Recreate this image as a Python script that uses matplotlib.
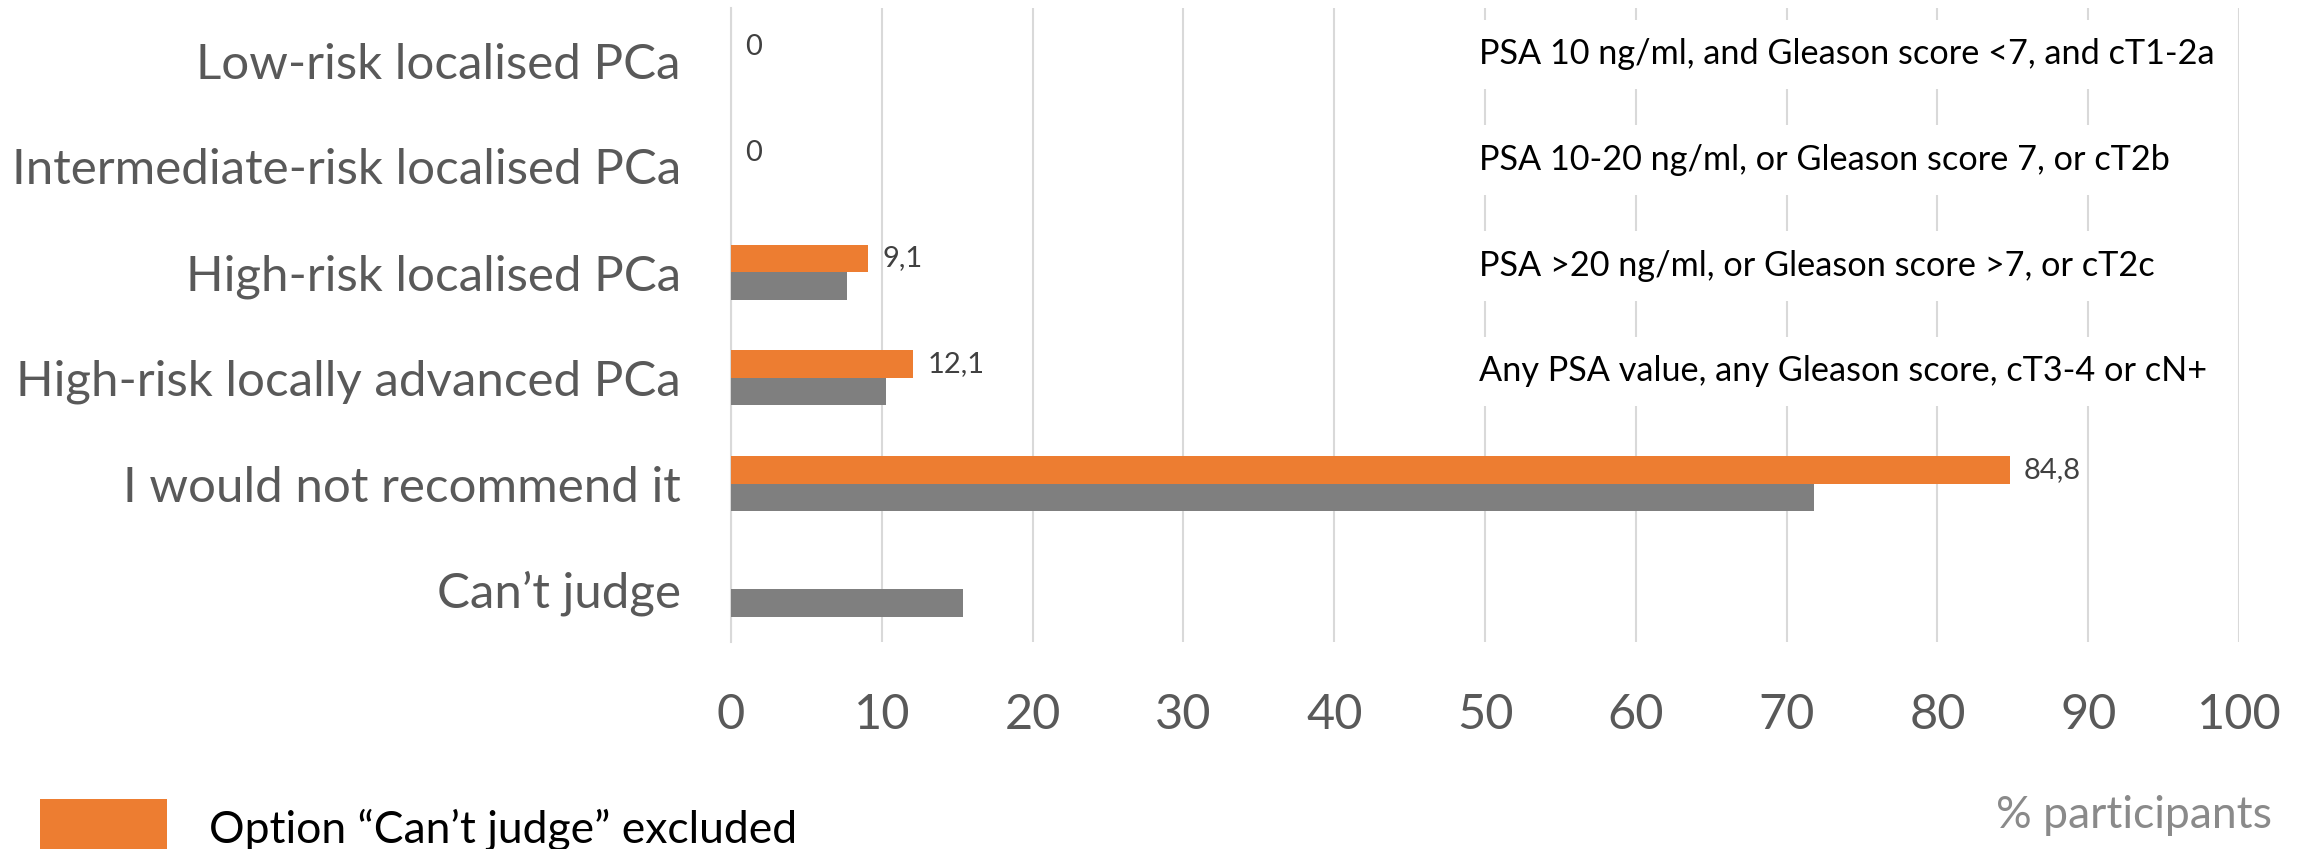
import matplotlib
matplotlib.use("Agg")
import matplotlib.pyplot as plt
import numpy as np

# Survey answers (% participants)
categories = [
    "Low-risk localised PCa",
    "Intermediate-risk localised PCa",
    "High-risk localised PCa",
    "High-risk locally advanced PCa",
    "I would not recommend it",
    "Can\u2019t judge",
]
excluded = [0, 0, 9.1, 12.1, 84.8, 0]          # option "Can't judge" excluded
included = [0, 0, 7.7, 10.3, 71.8, 15.4]       # all answers
risk_definitions = [
    "PSA 10 ng/ml, and Gleason score <7, and cT1-2a",
    "PSA 10-20 ng/ml, or Gleason score 7, or cT2b",
    "PSA >20 ng/ml, or Gleason score >7, or cT2c",
    "Any PSA value, any Gleason score, cT3-4 or cN+",
]
x_ticks = [0, 10, 20, 30, 40, 50, 60, 70, 80, 90, 100]
series_names = ["Option \u201cCan\u2019t judge\u201d excluded",
                "Option \u201cCan\u2019t judge\u201d included"]

ORANGE = "#ED7D31"
GREY = "#7F7F7F"
GRID = "#D9D9D9"
LABEL = "#595959"

plt.rcParams["font.family"] = ["Lato", "DejaVu Sans"]

W, H = 2308, 849
fig = plt.figure(figsize=(W / 100, H / 100), dpi=100)
ax = fig.add_axes([731 / W, 1 - 642 / H, (2239 - 731) / W, (642 - 8) / H])

y = np.arange(len(categories))
bh = 0.26
bars_ex = ax.barh(y - bh / 2, excluded, height=bh, color=ORANGE, zorder=3,
                  label=series_names[0])
bars_in = ax.barh(y + bh / 2, included, height=bh, color=GREY, zorder=3,
                  label=series_names[1])

ex_labels = [("%.1f" % v).replace(".", ",") if v else "0" for v in excluded]
ex_labels[-1] = ""
ax.bar_label(bars_ex, labels=ex_labels, padding=10, fontsize=21,
             color="#404040", zorder=4)

ax.set_xlim(0, 100)
ax.set_ylim(len(categories) - 0.5, -0.5)
ax.set_xticks(x_ticks)
ax.set_yticks(y)
ax.set_yticklabels(categories)
ax.tick_params(axis="y", length=0, pad=36, labelsize=35.5, labelcolor=LABEL)
ax.tick_params(axis="x", length=0, pad=37, labelsize=35, labelcolor=LABEL)
ax.xaxis.grid(True, color=GRID, linewidth=1.5, zorder=0)
ax.set_axisbelow(True)
for side in ("top", "right", "bottom"):
    ax.spines[side].set_visible(False)
ax.spines["left"].set_color(GRID)
ax.spines["left"].set_linewidth(1.5)

# Definitions of the risk groups, on white boxes over the grid
for i, txt in enumerate(risk_definitions):
    ax.text(49.6, i - 0.06, txt, fontsize=24.7, color="black", va="center",
            ha="left", zorder=5,
            bbox=dict(boxstyle="square,pad=0.55", facecolor="white",
                      edgecolor="none"))

fig.text(2272 / W, 1 - 828 / H, "% participants", fontsize=32,
         color="#8A8A8A", ha="right", va="baseline")

fig.legend(handles=[bars_ex, bars_in], labels=series_names,
           loc="upper left", bbox_to_anchor=(40 / W, 1 - 799 / H),
           frameon=False, borderpad=0, borderaxespad=0, fontsize=32,
           handlelength=2.85, handleheight=1.67, handletextpad=0.95,
           labelspacing=0.6)

fig.savefig("out.png", dpi=100)
